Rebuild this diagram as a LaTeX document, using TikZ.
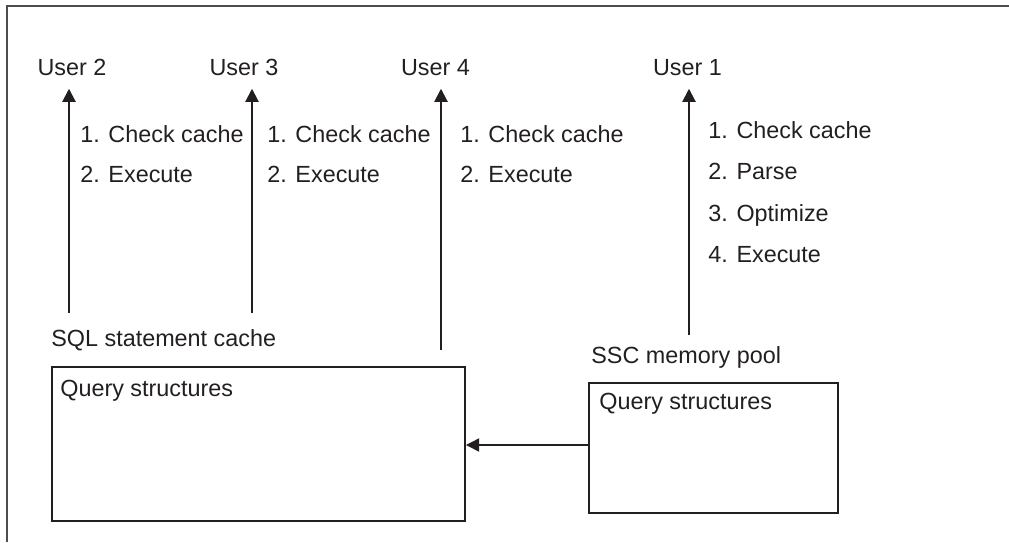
\documentclass[tikz,border=0pt]{standalone}
\usepackage{fontspec}
\setmainfont{Liberation Sans}
\usetikzlibrary{arrows.meta}
\definecolor{ink}{HTML}{231F20}
\begin{document}
\begin{tikzpicture}[
        font=\fontsize{13.3pt}{15pt}\selectfont, color=ink,
        user/.style={anchor=base, inner sep=0pt, outer sep=0.27cm},
        txt/.style={anchor=base west, inner sep=0pt},
        qbox/.style={draw, line width=1.1pt, inner sep=0pt},
        flow/.style={line width=1.1pt, -{Triangle[length=7.5pt,width=7.5pt]}}
    ]
                \useasboundingbox (0,0) rectangle (20.18,-10.84);
                \draw[line width=1pt, ink!80] (0.14,-10.84) -- (0.14,-0.12) -- (20.18,-0.12);

                \node[user] at (1.44,-1.5) (u2) {User 2};
                \node[user] at (4.88,-1.5) (u3) {User 3};
                \node[user] at (8.71,-1.5) (u4) {User 4};
                \node[user] at (13.75,-1.5) (u1) {User 1};

                \coordinate (b2) at (1.38,-6.26);
                \coordinate (b3) at (5.04,-6.26);
                \coordinate (b4) at (8.82,-7.0);
                \coordinate (b1) at (13.78,-6.7);

                \node[txt] at (1.6,-2.84) (c2a) {1. Check cache};
                \node[txt] at (1.6,-3.64) (c2b) {2. Execute};
                \node[txt] at (5.34,-2.84) (c3a) {1. Check cache};
                \node[txt] at (5.34,-3.64) (c3b) {2. Execute};
                \node[txt] at (9.2,-2.84) (c4a) {1. Check cache};
                \node[txt] at (9.2,-3.64) (c4b) {2. Execute};
                \node[txt] at (14.16,-2.76) (c1a) {1. Check cache};
                \node[txt] at (14.16,-3.58) (c1b) {2. Parse};
                \node[txt] at (14.16,-4.42) (c1c) {3. Optimize};
                \node[txt] at (14.16,-5.24) (c1d) {4. Execute};

                \node[txt] at (1.02,-6.92) (ssc) {SQL statement cache};
                \node[txt] at (11.82,-7.26) (pool) {SSC memory pool};

                \node[qbox, minimum width=8.26cm, minimum height=3.08cm] at (5.17,-8.88) (sqlbox) {};
                \node[qbox, minimum width=4.98cm, minimum height=2.6cm] at (14.27,-8.96) (poolbox) {};
                \node[txt] at (1.2,-7.92) (sqlq) {Query structures};
                \node[txt] at (11.98,-8.18) (poolq) {Query structures};

                \draw[flow] (b2) -- (b2 |- u2.south);
                \draw[flow] (b3) -- (b3 |- u3.south);
                \draw[flow] (b4) -- (b4 |- u4.south);
                \draw[flow] (b1) -- (b1 |- u1.south);
                \draw[flow, line width=0.8pt] ([yshift=0.06cm]poolbox.west) -- ([yshift=0.06cm]poolbox.west -| sqlbox.east);
\end{tikzpicture}
\end{document}
